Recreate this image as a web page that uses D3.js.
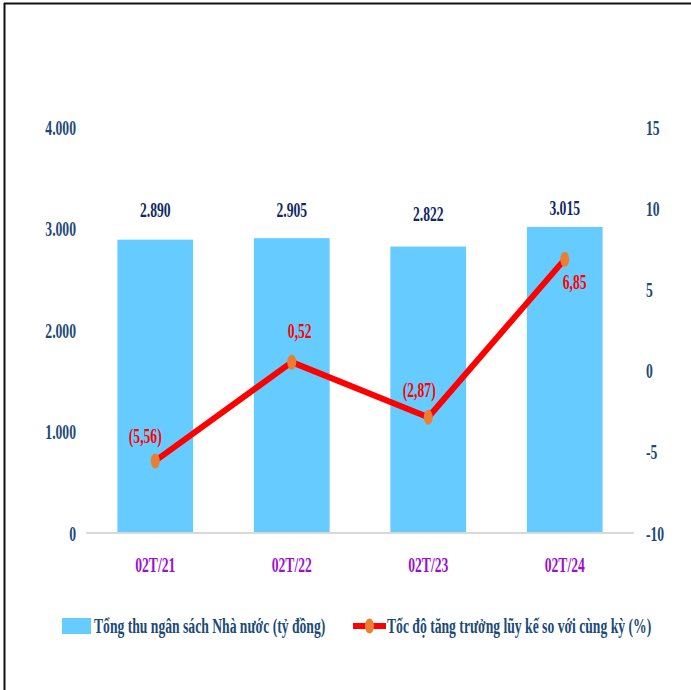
<!DOCTYPE html>
<html>
<head>
<meta charset="utf-8">
<script src="https://cdn.jsdelivr.net/npm/d3@7"></script>
<style>
  html, body { margin: 0; padding: 0; background: #fff; }
  svg text { font-family: "Liberation Serif", "Times New Roman", serif; font-weight: bold; }
</style>
</head>
<body>
<svg id="chart" width="691" height="690"></svg>
<script>
const periods = ["02T/21", "02T/22", "02T/23", "02T/24"];
const revenue = [2890, 2905, 2822, 3015];
const growth = [-5.56, 0.52, -2.87, 6.85];
const leftTicks = [0, 1000, 2000, 3000, 4000];
const rightTicks = [-10, -5, 0, 5, 10, 15];
const legendLabels = [
  "Tổng thu ngân sách Nhà nước (tỷ đồng)",
  "Tốc độ tăng trưởng lũy kế so với cùng kỳ (%)",
];

// label nudges (px), as the spreadsheet placed them
const valueLabelShift = [-23, -21, -26, -12];
const growthLabelShift = [[-10, -18], [8, -24], [-9, -20], [10, 30]];

const svg = d3.select("#chart");
const squeezeK = 0.62;

const vn = d3.formatLocale({ decimal: ",", thousands: ".", grouping: [3], currency: ["", ""], minus: "-" });
const fmtInt = vn.format(",d");
const fmtPct = (v) => (v < 0 ? `(${vn.format(".2f")(-v)})` : vn.format(".2f")(v));

// narrow the serif glyphs like the original picture
function squeeze(sel) {
  sel.each(function () {
    const t = d3.select(this);
    const x0 = +t.attr("x") || 0;
    t.attr("x", x0 / squeezeK).attr("transform", `scale(${squeezeK},1)`);
  });
}

const plot = { left: 86, right: 634, top: 127, bottom: 533 };

const x = d3.scaleBand()
  .domain(periods)
  .range([plot.left, plot.right])
  .paddingInner(0.445)
  .paddingOuter(0.23);

const yL = d3.scaleLinear().domain([0, 4000]).range([plot.bottom, plot.top]);
const yR = d3.scaleLinear().domain([-10, 15]).range([plot.bottom, plot.top]);

// frame (only top and left edges are visible)
svg.append("line").attr("x1", 4).attr("x2", 691).attr("y1", 3.5).attr("y2", 3.5)
  .attr("stroke", "#111").attr("stroke-width", 2);
svg.append("line").attr("x1", 4.5).attr("x2", 4.5).attr("y1", 3).attr("y2", 690)
  .attr("stroke", "#111").attr("stroke-width", 2);

// bars
svg.append("g")
  .selectAll("rect")
  .data(periods)
  .join("rect")
  .attr("x", (d) => x(d))
  .attr("y", (d, i) => yL(revenue[i]))
  .attr("width", x.bandwidth())
  .attr("height", (d, i) => yL(0) - yL(revenue[i]))
  .attr("fill", "#66ccff");

// baseline
svg.append("line")
  .attr("x1", plot.left).attr("x2", plot.right)
  .attr("y1", yL(0)).attr("y2", yL(0))
  .attr("stroke", "#d9d9d9").attr("stroke-width", 2);

// left axis
const axL = svg.append("g")
  .attr("transform", `translate(${plot.left},0)`)
  .call(d3.axisLeft(yL).tickValues(leftTicks).tickFormat(fmtInt).tickSize(0).tickPadding(10))
  .call((g) => g.select(".domain").remove());
axL.selectAll("text").attr("font-size", 22).attr("fill", "#1c4a78").attr("font-family", null);
squeeze(axL.selectAll("text"));

// right axis
const axR = svg.append("g")
  .attr("transform", `translate(${plot.right},0)`)
  .call(d3.axisRight(yR).tickValues(rightTicks).tickFormat(vn.format("d")).tickSize(0).tickPadding(12))
  .call((g) => g.select(".domain").remove());
axR.selectAll("text").attr("font-size", 22).attr("fill", "#1c4a78").attr("font-family", null);
squeeze(axR.selectAll("text"));

// category axis
const axB = svg.append("g")
  .attr("transform", `translate(0,${plot.bottom})`)
  .call(d3.axisBottom(x).tickSize(0).tickPadding(23))
  .call((g) => g.select(".domain").remove());
axB.selectAll("text").attr("font-size", 22).attr("fill", "#9b0fd0").attr("font-family", null);
squeeze(axB.selectAll("text"));

// bar value labels
const valLabels = svg.append("g")
  .selectAll("text")
  .data(periods)
  .join("text")
  .attr("x", (d) => x(d) + x.bandwidth() / 2)
  .attr("y", (d, i) => yL(revenue[i]) + valueLabelShift[i])
  .attr("text-anchor", "middle")
  .attr("font-size", 22)
  .attr("fill", "#0f2a63")
  .text((d, i) => fmtInt(revenue[i]));
squeeze(valLabels);

// growth line
const cx = (d) => x(d) + x.bandwidth() / 2;
const line = d3.line()
  .x((d) => cx(d))
  .y((d, i) => yR(growth[i]));

svg.append("path")
  .datum(periods)
  .attr("d", line)
  .attr("fill", "none")
  .attr("stroke", "#ff0000")
  .attr("stroke-width", 6)
  .attr("stroke-linejoin", "round");

svg.append("g")
  .selectAll("ellipse")
  .data(periods)
  .join("ellipse")
  .attr("cx", cx)
  .attr("cy", (d, i) => yR(growth[i]))
  .attr("rx", 4.5)
  .attr("ry", 7.5)
  .attr("fill", "#ed7d31");

const pctLabels = svg.append("g")
  .selectAll("text")
  .data(periods)
  .join("text")
  .attr("x", (d, i) => cx(d) + growthLabelShift[i][0])
  .attr("y", (d, i) => yR(growth[i]) + growthLabelShift[i][1])
  .attr("text-anchor", "middle")
  .attr("font-size", 22)
  .attr("fill", "#ff0000")
  .text((d, i) => fmtPct(growth[i]));
squeeze(pctLabels);

// legend
const legY = 626;
const leg = svg.append("g");
leg.append("rect").attr("x", 62).attr("y", legY - 8).attr("width", 29).attr("height", 16).attr("fill", "#66ccff");
const lt1 = leg.append("text").attr("x", 94).attr("y", legY + 7).attr("font-size", 22)
  .attr("fill", "#1c4a78").text(legendLabels[0]);
leg.append("line").attr("x1", 353).attr("x2", 386).attr("y1", legY).attr("y2", legY)
  .attr("stroke", "#ff0000").attr("stroke-width", 6);
leg.append("ellipse").attr("cx", 369.5).attr("cy", legY).attr("rx", 4.5).attr("ry", 7.5).attr("fill", "#ed7d31");
const lt2 = leg.append("text").attr("x", 387).attr("y", legY + 7).attr("font-size", 22)
  .attr("fill", "#1c4a78").text(legendLabels[1]);
squeeze(lt1);
squeeze(lt2);
</script>
</body>
</html>
